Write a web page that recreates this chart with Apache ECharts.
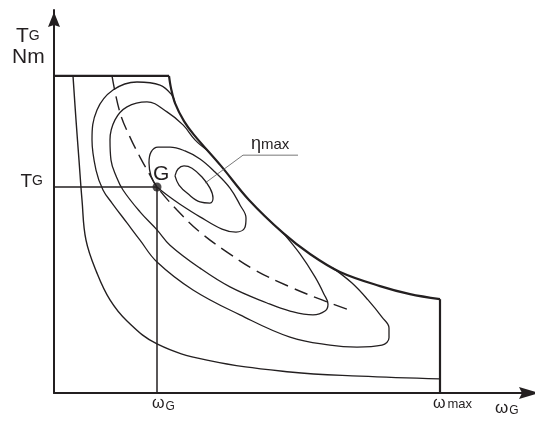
<!DOCTYPE html>
<html>
<head>
<meta charset="utf-8">
<script src="https://cdn.jsdelivr.net/npm/echarts@6/dist/echarts.min.js"></script>
<style>
  html, body { margin: 0; padding: 0; background: #ffffff; }
  #main { width: 535px; height: 421px; }
</style>
</head>
<body>
<div id="main"></div>
<script>
// Generator operating map: torque T_G over speed ω_G, in normalised units.
const omegaG = 25.75;      // speed at the operating point G
const torqueG = 53.8;      // torque at the operating point G
const omegaMax = 96.5;     // speed limit

// Maximum-torque envelope: flat top, constant-power curve, speed limit.
const envelopeTop = [[0, 82.8], [28.75, 82.8]];
const envelopeCurve = [
  [28.75, 82.8], [29.25, 79.6], [30.25, 75.7], [32.5, 71.0], [35, 67.4], [41.75, 59.3],
  [48.75, 50.4], [57.25, 41.8], [64, 36.3], [71.5, 31.6], [81.5, 27.9], [89, 25.8], [96.5, 24.5]
];
const envelopeEdge = [[96.5, 24.5], [96.5, 0]];

// Efficiency contours, from the outermost to the η_max island.
const contour1 = [
  [4.75, 82.8], [5.5, 71.3], [6.25, 60.8], [7, 50.4], [8, 39.9], [10.75, 31.3],
  [14, 24.3], [18.25, 18.8], [25.75, 12.8], [38.25, 8.6], [59, 5.5], [76.5, 4.4], [96.5, 3.7]
];
const contour2 = [
  [69.75, 32.6], [74.5, 28.7], [78.5, 24.3], [82, 19.8], [83.75, 17.0], [83.75, 14.4],
  [82, 12.5], [75.75, 12.0], [69, 12.5], [59, 14.6], [46.5, 20.4], [34.75, 26.9],
  [25.75, 34.2], [21.5, 39.9], [18.25, 44.4], [14.5, 49.6], [12.25, 53.0], [10.5, 58.2],
  [9.5, 66.1], [10.75, 73.9], [14.75, 79.1], [20.75, 81.2], [26.5, 80.4], [29.4, 77.9], [30.25, 75.7]
];
const contour3 = [
  [57.25, 41.8], [61.5, 36.3], [65.25, 30.3], [67.5, 25.8], [68.5, 23.2], [67.75, 21.4],
  [64.75, 20.4], [59, 21.4], [53.25, 23.5], [44, 27.7], [36.5, 32.6], [29, 38.6],
  [25.75, 42.6], [21.5, 47.3], [17.25, 53.0], [15.5, 56.7], [14.25, 60.8], [14, 66.1],
  [15.25, 71.3], [18.25, 74.7], [23.25, 76.0], [28.25, 73.4], [32.25, 70.0], [35.25, 66.1], [38.3, 63.4]
];
const contour4 = [
  [25.75, 53.8], [24.25, 56.7], [23.75, 60.1], [24.25, 62.9], [26, 64.2], [29, 64.2],
  [32.75, 63.2], [36.5, 61.1], [40.25, 57.7], [44, 53.5], [46.5, 49.1], [48, 45.7],
  [47.75, 43.3], [45.5, 42.0], [42, 42.8], [36.5, 46.0], [31.5, 49.3], [28.25, 51.7], [25.75, 53.8]
];
const contourMax = [
  [30.25, 56.7], [31, 58.5], [32.5, 59.3], [34.5, 58.7], [37, 56.4], [39, 53.5],
  [39.75, 50.9], [39, 49.6], [36.5, 49.9], [33.5, 52.0], [31.25, 54.3], [30.25, 56.7]
];

// Optimum-efficiency operating line through G.
const optimumLine = [
  [14.5, 82.8], [16.5, 73.2], [19, 66.8], [21.5, 61.6], [24, 56.9], [25.75, 53.8],
  [30.75, 47.8], [36.5, 42.0], [43.25, 36.8], [50.25, 32.1], [59, 27.7], [67, 24.3], [74.5, 21.4]
];

// Leader from the η_max island to its label.
const etaLeader = [[37.75, 54.8], [47.25, 62.1], [61, 62.1]];

// Projection lines from G onto both axes.
const guideT = [[0, torqueG], [omegaG, torqueG]];
const guideOmega = [[omegaG, torqueG], [omegaG, 0]];

const ink = '#231f20';
const fontFamily = 'Liberation Sans, Arial, Helvetica, sans-serif';

function line(data, width, extra) {
  return Object.assign({
    type: 'line', data: data, symbol: 'none', showSymbol: false, silent: true,
    lineStyle: { color: ink, width: width }, z: 3
  }, extra || {});
}

const chart = echarts.init(document.getElementById('main'), null, { renderer: 'canvas' });

chart.setOption({
  animation: false,
  backgroundColor: '#ffffff',
  grid: { left: 54, right: 1, top: 10, bottom: 28 },
  xAxis: {
    type: 'value', min: 0, max: 120,
    axisLine: {
      show: true, onZero: false,
      symbol: ['none', 'path://M6,0L12,20L6,17L0,20Z'],
      symbolSize: [12, 20], symbolOffset: [0, -5],
      lineStyle: { color: ink, width: 2 }
    },
    axisTick: { show: false }, axisLabel: { show: false }, splitLine: { show: false }
  },
  yAxis: {
    type: 'value', min: 0, max: 100,
    axisLine: {
      show: true, onZero: false,
      symbol: ['none', 'path://M6,0L12,15L6,13L0,15Z'],
      symbolSize: [12, 15], symbolOffset: [0, -9.5],
      lineStyle: { color: ink, width: 2 }
    },
    axisTick: { show: false }, axisLabel: { show: false }, splitLine: { show: false }
  },
  series: [
    line(envelopeTop, 2.2),
    line(envelopeCurve, 2.2, { smooth: 0.35 }),
    line(envelopeEdge, 2.2),
    line(contour1, 1.4, { smooth: 0.4 }),
    line(contour2, 1.3, { smooth: 0.4 }),
    line(contour3, 1.3, { smooth: 0.4 }),
    line(contour4, 1.3, { smooth: 0.4 }),
    line(contourMax, 1.3, { smooth: 0.4 }),
    line(optimumLine, 1.4, { smooth: 0.4, lineStyle: { color: ink, width: 1.4, type: [14, 7] } }),
    line(etaLeader, 0.8, { lineStyle: { color: '#555555', width: 0.8 } }),
    line(guideT, 1.5),
    line(guideOmega, 1.5),
    {
      type: 'scatter', data: [[omegaG, torqueG]], symbol: 'circle', symbolSize: 9,
      itemStyle: { color: ink }, silent: true, z: 6
    }
  ]
});

// Text labels, anchored to the data through the grid's scales.
const toPx = function (x, y) { return chart.convertToPixel({ gridIndex: 0 }, [x, y]); };
const pOrigin = toPx(0, 0);
const pTop = toPx(0, 100);
const pG = toPx(omegaG, torqueG);
const pOmegaMax = toPx(omegaMax, 0);
const pEta = toPx(etaLeader[2][0], etaLeader[2][1]);
const pAxisEnd = toPx(120, 0);

function text(x, y, str, rich, align, vAlign) {
  return {
    type: 'text', x: x, y: y, silent: true, z: 10,
    style: { text: str, rich: rich, fill: ink, fontFamily: fontFamily, align: align, verticalAlign: vAlign }
  };
}

const big = { fontSize: 21, fontFamily: fontFamily, fill: ink };
const sub = { fontSize: 14, fontFamily: fontFamily, fill: ink };
const omegaBig = { fontSize: 16, fontFamily: fontFamily, fill: ink };
const omegaSub = { fontSize: 12, fontFamily: fontFamily, fill: ink, padding: [0, 0, -5, 1] };
const omegaMaxSub = { fontSize: 13, fontFamily: fontFamily, fill: ink, padding: [0, 0, -1, 2] };

chart.setOption({
  graphic: [
    text(pOrigin[0] - 38, pTop[1] + 37, '{a|T}{b|G}', { a: big, b: sub }, 'left', 'bottom'),
    text(pOrigin[0] - 42, pTop[1] + 58, '{a|Nm}', { a: big }, 'left', 'bottom'),
    text(pOrigin[0] - 11, pG[1] + 4, '{a|T}{b|G}', { a: { fontSize: 19, fontFamily: fontFamily, fill: ink }, b: sub }, 'right', 'bottom'),
    text(pG[0] - 5, pOrigin[1] + 19, '{a|ω}{b|G}', { a: omegaBig, b: omegaSub }, 'left', 'bottom'),
    text(pOmegaMax[0] - 7, pOrigin[1] + 19, '{a|ω}{b|max}', { a: omegaBig, b: omegaMaxSub }, 'left', 'bottom'),
    text(pAxisEnd[0] - 39, pOrigin[1] + 24, '{a|ω}{b|G}', { a: { fontSize: 17, fontFamily: fontFamily, fill: ink }, b: omegaSub }, 'left', 'bottom'),
    text(pG[0] - 4, pG[1] - 2, '{a|G}', { a: { fontSize: 21, fontFamily: fontFamily, fill: ink } }, 'left', 'bottom'),
    text(pEta[0] - 47, pEta[1] - 2, '{a|η}{b|max}', {
      a: { fontSize: 18, fontFamily: fontFamily, fill: ink },
      b: { fontSize: 15, fontFamily: fontFamily, fill: ink, padding: [0, 0, -1, 0] }
    }, 'left', 'bottom')
  ]
});
</script>
</body>
</html>
